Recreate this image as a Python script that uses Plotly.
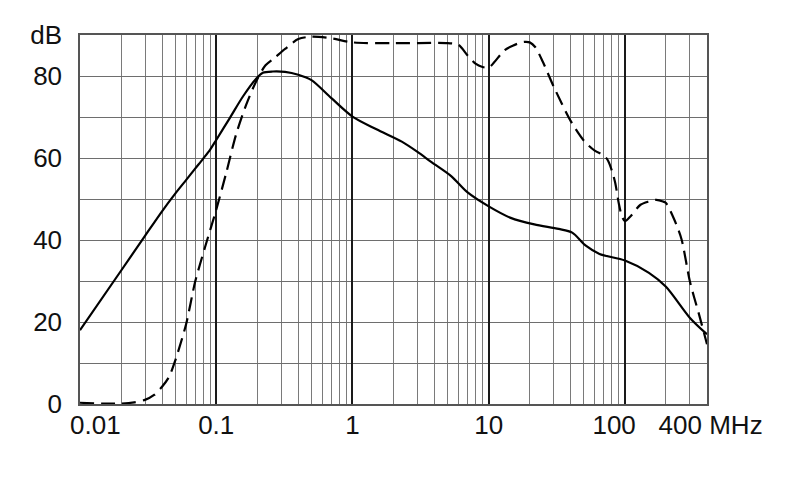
import plotly.graph_objects as go

# --- DATA ---
# Frequency points in MHz and level in dB for the two curves.
solid_freq = [0.01, 0.02, 0.03, 0.04, 0.05, 0.06, 0.07, 0.08, 0.09, 0.1, 0.126, 0.157, 0.197,
              0.22, 0.26, 0.32, 0.4, 0.5, 0.7, 1, 1.5, 2.3, 3, 3.8, 5.3, 7, 10, 14.5, 21.6,
              32.6, 41, 51.6, 65, 100, 150, 200, 300, 400]
solid_db = [18, 32.5, 41, 47, 51.3, 54.6, 57.4, 59.8, 62, 64.4, 69.8, 75, 79.4,
            80.8, 81.1, 81, 80.3, 79, 74.6, 70.1, 67, 64, 61.5, 59, 55.6, 51.6, 48.2, 45.4, 43.8,
            42.7, 41.8, 38.6, 36.6, 35, 32, 28.6, 21, 17]

dashed_freq = [0.01, 0.015, 0.02, 0.025, 0.03, 0.035, 0.04, 0.045, 0.05, 0.06, 0.07, 0.083,
               0.1, 0.118, 0.14, 0.166, 0.197, 0.23, 0.27, 0.32, 0.4, 0.5, 0.7, 1, 2, 5, 6, 7, 8,
               9, 10, 11, 13, 15, 18, 20, 22, 25, 30, 40, 50, 60, 70, 75, 80, 85, 90, 95, 100,
               110, 130, 150, 170, 190, 200, 230, 260, 300, 350, 400]
dashed_db = [0.3, 0.1, 0.1, 0.4, 1, 2.2, 4.2, 6.6, 10.6, 19.4, 29.8, 38.4,
             47.4, 56.2, 65.8, 73, 78.8, 82.6, 84.5, 86.6, 89, 89.6, 89.2, 88.2, 88, 88, 87.6, 85, 83,
             82.2, 82, 83.4, 86.2, 87.4, 88.3, 88.2, 87, 83.4, 77.4, 69, 64.2, 61.8, 60.6, 59.4, 57,
             53.8, 49, 45.8, 44.6, 45.8, 48.6, 49.4, 49.8, 49.4, 49, 45, 40.2, 29.8, 21.8, 14.6]

# Axis labels (the first one, 0.01, sits right of its tick like in the original, so it is an annotation)
x_first_label = "0.01"
x_label_vals = [0.01, 0.1, 1, 10, 100, 400]
x_label_text = ["", "0.1", "1", "10", "100\u00a0\u00a0\u00a0", "\u00a0400 MHz"]
x_minor_vals = [m * d for d in [0.01, 0.1, 1, 10] for m in range(2, 10)] + [200, 300]
x_decade_vals = [0.1, 1, 10, 100]
y_vals = [0, 10, 20, 30, 40, 50, 60, 70, 80, 90]
y_text = ["0", "", "20", "", "40", "", "60", "", "80", "dB"]

FONT = "Liberation Sans, Arial, sans-serif"
X_RANGE = [-2, 2.6021]

# --- FIGURE ---
fig = go.Figure()

fig.add_trace(go.Scatter(x=solid_freq, y=solid_db, mode="lines",
                         line=dict(color="black", width=2.2, shape="spline", smoothing=0.8),
                         showlegend=False))
fig.add_trace(go.Scatter(x=dashed_freq, y=dashed_db, mode="lines",
                         line=dict(color="black", width=2.2, dash="14px,7px", shape="spline", smoothing=0.8),
                         showlegend=False))

# decade lines live on an overlaying x axis so they can be darker than the minor grid
fig.add_trace(go.Scatter(x=[0.01, 400], y=[None, None], xaxis="x2", showlegend=False, hoverinfo="skip"))

fig.add_annotation(x=X_RANGE[0], xref="x", y=0, yref="paper", text=x_first_label,
                   xanchor="left", yanchor="top", xshift=-12, yshift=-4, showarrow=False,
                   font=dict(family=FONT, size=26, color="#111"))

# the page body adds an 8px offset, so the margins are trimmed by that much
fig.update_layout(
    width=790, height=499,
    margin=dict(l=72, r=91, t=21, b=103),
    plot_bgcolor="white", paper_bgcolor="white",
    font=dict(family=FONT, size=26, color="#111"),
    xaxis=dict(
        type="log", range=X_RANGE,
        tickmode="array", tickvals=x_label_vals, ticktext=x_label_text, tickangle=0,
        showgrid=False, ticks="", ticklabelstandoff=-3,
        showline=True, linecolor="#555", linewidth=1.5, mirror=True,
        minor=dict(tickmode="array", tickvals=x_minor_vals, showgrid=True,
                   gridcolor="#7a7a7a", gridwidth=1.4, ticks=""),
        zeroline=False,
    ),
    xaxis2=dict(
        type="log", range=X_RANGE, overlaying="x", matches="x",
        tickmode="array", tickvals=x_decade_vals, showticklabels=False,
        showgrid=True, gridcolor="#1a1a1a", gridwidth=2.2, ticks="", showline=False,
    ),
    yaxis=dict(
        range=[0, 90],
        tickmode="array", tickvals=y_vals, ticktext=y_text,
        showgrid=True, gridcolor="#6e6e6e", gridwidth=1.4,
        ticks="", ticklabelstandoff=11,
        showline=True, linecolor="#555", linewidth=1.5, mirror=True,
        zeroline=False,
    ),
)

fig.write_html("out.html")
